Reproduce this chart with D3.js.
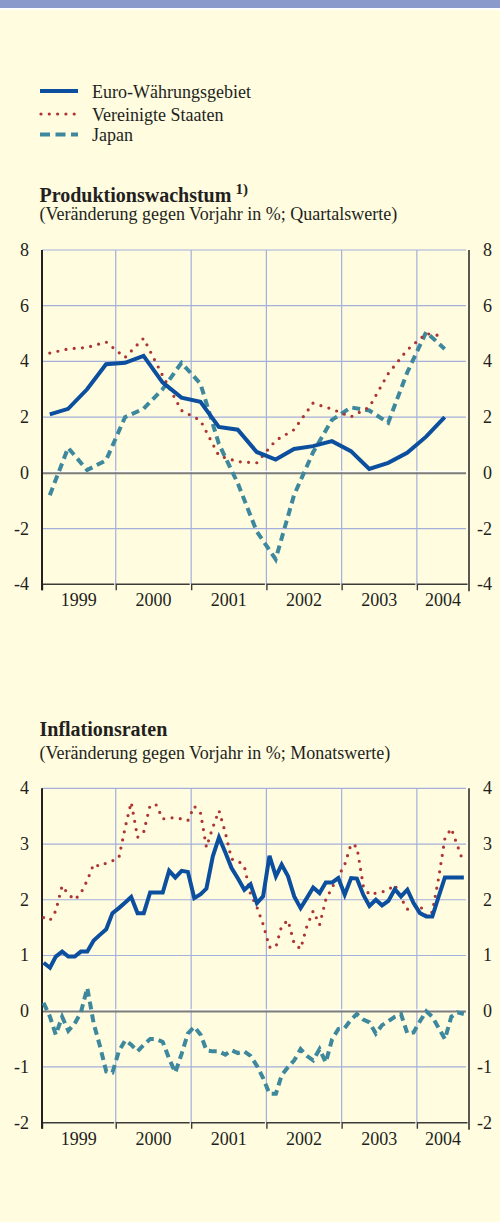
<!DOCTYPE html>
<html>
<head>
<meta charset="utf-8">
<script src="https://cdn.jsdelivr.net/npm/d3@7"></script>
<style>
 body { margin: 0; background: #fffcdf; }
 svg text { font-family: "Liberation Serif", "Times New Roman", serif; fill: #231f20; }
</style>
</head>
<body>
<div id="chart"></div>
<script>
// series names / legend
var seriesNames = ["Euro-Währungsgebiet", "Vereinigte Staaten", "Japan"];
var yearLabels = ["1999", "2000", "2001", "2002", "2003", "2004"];

// Produktionswachstum, quarterly 1999Q1 - 2004Q2
var growthTicks = [-4, -2, 0, 2, 4, 6, 8];
var growthEuro = [2.1, 2.3, 3.0, 3.9, 3.95, 4.2, 3.25, 2.7, 2.55, 1.65, 1.55, 0.75, 0.48, 0.86, 0.96, 1.14, 0.78, 0.14, 0.36, 0.72, 1.3, 2.0];
var growthUS = [4.3, 4.45, 4.5, 4.7, 4.14, 4.83, 3.5, 2.24, 1.88, 0.62, 0.4, 0.36, 1.16, 1.55, 2.5, 2.29, 2.01, 2.36, 3.56, 4.41, 5.0, 4.9];
var growthJapan = [-0.8, 0.9, 0.1, 0.45, 2.0, 2.3, 3.0, 3.95, 3.2, 1.05, -0.37, -2.1, -3.1, -0.8, 0.73, 1.9, 2.35, 2.24, 1.8, 3.6, 5.05, 4.45];

// Inflationsraten, monthly Jan 1999 - Aug 2004
var inflTicks = [-2, -1, 0, 1, 2, 3, 4];
var inflEuro = [0.87, 0.78, 0.98, 1.07, 0.98, 0.98, 1.07, 1.07, 1.27, 1.37, 1.47, 1.76,
  1.85, 1.95, 2.05, 1.76, 1.76, 2.13, 2.13, 2.13, 2.52, 2.4, 2.52, 2.5,
  2.03, 2.1, 2.2, 2.78, 3.12, 2.85, 2.57, 2.38, 2.18, 2.28, 1.94, 2.06,
  2.79, 2.42, 2.63, 2.42, 2.06, 1.85, 2.03, 2.22, 2.12, 2.31, 2.31, 2.39,
  2.09, 2.39, 2.38, 2.09, 1.89, 2.0, 1.9, 1.98, 2.19, 2.06, 2.18, 1.94,
  1.76, 1.7, 1.7, 2.06, 2.4, 2.4, 2.4, 2.4];
var inflUS = [1.68, 1.63, 1.8, 2.25, 2.1, 2.0, 2.12, 2.35, 2.64, 2.6, 2.66, 2.7,
  2.75, 3.3, 3.75, 3.12, 3.22, 3.7, 3.7, 3.45, 3.47, 3.47, 3.45, 3.42,
  3.68, 3.55, 2.94, 3.3, 3.6, 3.2, 2.73, 2.7, 2.6, 2.1, 1.87, 1.56,
  1.15, 1.15, 1.53, 1.63, 1.21, 1.12, 1.52, 1.8, 1.55, 2.0, 2.22, 2.42,
  2.63, 3.0, 2.95, 2.25, 2.09, 2.12, 2.14, 2.18, 2.27, 2.03, 1.83, 1.9,
  1.9, 1.7, 1.78, 2.4, 3.1, 3.28, 2.97, 2.65];
var inflJapan = [0.15, -0.1, -0.42, -0.1, -0.35, -0.22, -0.02, 0.42, -0.22, -0.62, -1.08, -1.1,
  -0.72, -0.52, -0.6, -0.72, -0.6, -0.5, -0.5, -0.55, -0.85, -1.1, -0.76, -0.4,
  -0.28, -0.42, -0.7, -0.72, -0.72, -0.78, -0.7, -0.75, -0.72, -0.8, -0.98, -1.2,
  -1.48, -1.48, -1.15, -1.0, -0.88, -0.68, -0.8, -0.88, -0.68, -0.92, -0.5, -0.32,
  -0.3, -0.15, -0.05, -0.15, -0.2, -0.4, -0.25, -0.18, -0.1, -0.05, -0.4, -0.38,
  -0.18, 0.0, -0.1, -0.3, -0.5, -0.1, -0.02, -0.05];

var colors = { euro: "#0b4f9e", us: "#ad3533", japan: "#3e889e" };
var svgWidth = 500, svgHeight = 1222;
var plotLeft = 42, plotRight = 469, gridRight = 466;
var fontSize = "18px";

var svg = d3.select("#chart")
 .append("svg")
   .attr("width", svgWidth)
   .attr("height", svgHeight);

svg.append("rect").attr("width", svgWidth).attr("height", svgHeight).attr("fill", "#fffcdf");
svg.append("rect").attr("width", svgWidth).attr("height", 8).attr("fill", "#8a9bcb");
svg.append("rect").attr("y", 8).attr("width", svgWidth).attr("height", 2).attr("fill", "#ffffff");

var x = d3.scaleTime()
 .domain([new Date(1999, 0, 1), new Date(2005, 0, 1)])
 .range([40.5, 492.3]);

// period positions: mid-quarter and mid-month
var quarterDates = d3.timeMonth.every(3).range(new Date(1999, 0, 1), new Date(2004, 6, 1))
 .map(function (d) { return new Date(d.getFullYear(), d.getMonth() + 1, 15); });
var monthDates = d3.timeMonth.range(new Date(1999, 0, 1), new Date(2004, 8, 1))
 .map(function (d) { return new Date(d.getFullYear(), d.getMonth(), 16); });

// legend
var legend = svg.append("g");
var legendRows = [
 { y: 91, color: colors.euro, dash: null, width: 4, cap: "butt" },
 { y: 114, color: colors.us, dash: "0,8.3", width: 3.2, cap: "round" },
 { y: 134.5, color: colors.japan, dash: "10,5.5", width: 4, cap: "butt" }
];
legendRows.forEach(function (r, i) {
 legend.append("line")
   .attr("x1", r.cap === "round" ? 41 : 40).attr("x2", 78)
   .attr("y1", r.y).attr("y2", r.y)
   .attr("stroke", r.color).attr("stroke-width", r.width)
   .attr("stroke-dasharray", r.dash)
   .attr("stroke-linecap", r.cap);
 legend.append("text")
   .attr("x", 92).attr("y", r.y + 6.5)
   .style("font-size", fontSize)
   .text(seriesNames[i]);
});

function drawPanel(cfg) {
 var g = svg.append("g");
 var y = d3.scaleLinear().domain(cfg.domain).range([cfg.bottom, cfg.top]);

 // title + subtitle as one text block
 var t = g.append("text").attr("x", 39.5).attr("y", cfg.titleY);
 t.append("tspan").style("font-size", "20px").style("font-weight", "bold").text(cfg.title);
 if (cfg.sup) {
   t.append("tspan").attr("dx", 4).attr("dy", -8)
     .style("font-size", "15px").style("font-weight", "bold").text(cfg.sup);
 }
 t.append("tspan").attr("x", 39.5).attr("y", cfg.subY)
   .style("font-size", fontSize).text(cfg.subtitle);

 // horizontal grid
 g.selectAll(".hgrid")
   .data(cfg.ticks.filter(function (d) { return d !== 0 && d !== cfg.domain[0]; }))
   .enter().append("line")
     .attr("x1", plotLeft).attr("x2", gridRight)
     .attr("y1", function (d) { return y(d); })
     .attr("y2", function (d) { return y(d); })
     .attr("stroke", "#a4b0db").attr("stroke-width", 1.2);

 // vertical year grid
 var yearStarts = yearLabels.map(function (s) { return new Date(+s, 0, 1); });
 g.selectAll(".vgrid")
   .data(yearStarts.slice(1))
   .enter().append("line")
     .attr("x1", function (d) { return x(d); })
     .attr("x2", function (d) { return x(d); })
     .attr("y1", cfg.top).attr("y2", cfg.bottom)
     .attr("stroke", "#a4b0db").attr("stroke-width", 1.2);

 // zero line
 g.append("line").attr("x1", plotLeft).attr("x2", gridRight)
   .attr("y1", y(0) - 1.5).attr("y2", y(0) - 1.5)
   .attr("stroke", "#ffffff").attr("stroke-width", 1);
 g.append("line").attr("x1", plotLeft).attr("x2", gridRight)
   .attr("y1", y(0) + 0.3).attr("y2", y(0) + 0.3)
   .attr("stroke", "#7d7d7d").attr("stroke-width", 2);

 // x axis with year brackets
 var bounds = yearStarts.map(function (d) { return x(d); });
 bounds[0] = plotLeft;
 bounds.push(plotRight);
 for (var i = 0; i < yearLabels.length; i++) {
   var a = bounds[i], b = bounds[i + 1];
   g.append("path")
     .attr("d", "M" + (a + 0.5) + "," + (cfg.bottom + 6) + "V" + cfg.bottom + "H" + (b - 1.5))
     .attr("fill", "none").attr("stroke", "#3b3b3b").attr("stroke-width", 1.4);
   g.append("text")
     .attr("x", (a + b) / 2).attr("y", cfg.bottom + 22)
     .attr("text-anchor", "middle")
     .style("font-size", fontSize)
     .text(yearLabels[i]);
 }

 // vertical axes
 g.append("line").attr("x1", plotLeft).attr("x2", plotLeft)
   .attr("y1", cfg.top).attr("y2", cfg.bottom + 6)
   .attr("stroke", "#222").attr("stroke-width", 2);
 g.append("line").attr("x1", plotRight).attr("x2", plotRight)
   .attr("y1", cfg.top).attr("y2", cfg.bottom + 7)
   .attr("stroke", "#222").attr("stroke-width", 1.5);

 // tick labels both sides
 g.selectAll(".ltick").data(cfg.ticks).enter().append("text")
   .attr("x", 29).attr("y", function (d) { return y(d); })
   .attr("dy", "0.33em").attr("text-anchor", "end")
   .style("font-size", fontSize)
   .text(function (d) { return d; });
 g.selectAll(".rtick").data(cfg.ticks).enter().append("text")
   .attr("x", 492).attr("y", function (d) { return y(d); })
   .attr("dy", "0.33em").attr("text-anchor", "end")
   .style("font-size", fontSize)
   .text(function (d) { return d; });

 // series
 var line = d3.line()
   .x(function (d, i) { return x(cfg.dates[i]); })
   .y(function (d) { return y(d); });
 g.append("path").datum(cfg.japan).attr("d", line)
   .attr("fill", "none").attr("stroke", colors.japan).attr("stroke-width", 4)
   .attr("stroke-dasharray", "8,5");
 g.append("path").datum(cfg.us).attr("d", line)
   .attr("fill", "none").attr("stroke", colors.us).attr("stroke-width", 3.2)
   .attr("stroke-dasharray", "0,8.3").attr("stroke-linecap", "round");
 g.append("path").datum(cfg.euro).attr("d", line)
   .attr("fill", "none").attr("stroke", colors.euro).attr("stroke-width", 4)
   .attr("stroke-linejoin", "miter");
}

drawPanel({
 title: "Produktionswachstum", sup: "1)",
 subtitle: "(Veränderung gegen Vorjahr in %; Quartalswerte)",
 titleY: 201.5, subY: 219.5, top: 250, bottom: 584.3,
 domain: [-4, 8], ticks: growthTicks, dates: quarterDates,
 euro: growthEuro, us: growthUS, japan: growthJapan
});

drawPanel({
 title: "Inflationsraten", sup: null,
 subtitle: "(Veränderung gegen Vorjahr in %; Monatswerte)",
 titleY: 736, subY: 759, top: 788.3, bottom: 1122.7,
 domain: [-2, 4], ticks: inflTicks, dates: monthDates,
 euro: inflEuro, us: inflUS, japan: inflJapan
});
</script>
</body>
</html>
